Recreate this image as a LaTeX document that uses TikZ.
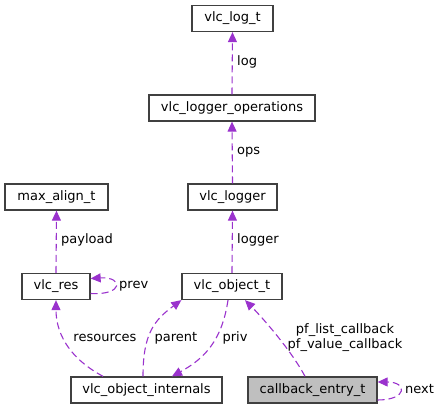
\documentclass[tikz,border=0pt]{standalone}
\usepackage{fontspec}
\setmainfont{DejaVu Sans}
\usetikzlibrary{arrows.meta}
\definecolor{depcol}{HTML}{9A32CD}
\definecolor{hilite}{HTML}{BFBFBF}
\begin{document}
\begin{tikzpicture}[x=1pt,y=1pt,
    box/.style={draw=black!75,line width=1.3pt,fill=white,minimum height=26pt,inner sep=0pt,font=\fontsize{13}{15}\selectfont},
    dep/.style={draw=depcol,line width=1.1pt,dash pattern=on 7pt off 4pt,-{Triangle[length=10pt,width=9pt,fill=depcol]}},
    lbl/.style={inner sep=0pt,font=\fontsize{13}{15}\selectfont}]
          \useasboundingbox (0,0) rectangle (440,409);
          \node[box,minimum width=81pt] (logt) at (232.5,390.5) {vlc\_log\_t};
          \node[box,minimum width=166pt] (ops) at (232,301) {vlc\_logger\_operations};
          \node[box,minimum width=103pt] (maxalign) at (56.5,212) {max\_align\_t};
          \node[box,minimum width=89pt] (logger) at (232.5,212) {vlc\_logger};
          \node[box,minimum width=68pt] (res) at (56,122.5) {vlc\_res};
          \node[box,minimum width=100pt] (object) at (232,122.5) {vlc\_object\_t};
          \node[box,minimum width=151pt] (internals) at (146.5,19) {vlc\_object\_internals};
          \node[box,minimum width=129pt,fill=hilite] (callback) at (312.5,19) {callback\_entry\_t};
          \draw[dep] (ops.north) -- (logt.south);
          \draw[dep] (logger.north) -- (ops.south);
          \draw[dep] (res.north) -- (maxalign.south);
          \draw[dep] (object.north) -- (logger.south);
          \draw[dep] ([yshift=-7pt]res.east) .. controls +(33,-2) and +(33,2) .. ([yshift=8pt]res.east);
          \draw[dep] ([xshift=-43.5pt]internals.north) .. controls +(-37,20) and +(0,-30) .. (res.south);
          \draw[dep] ([xshift=-3.5pt]internals.north) .. controls +(0,43) and +(-27,-20) .. (object.south west);
          \draw[dep] ([xshift=-4pt]object.south) .. controls +(-6,-40) and +(33,18) .. ([xshift=25.5pt]internals.north);
          \draw[dep] ([xshift=-7.5pt]callback.north) .. controls +(-15,28) and +(15,-15) .. ([xshift=13pt]object.south);
          \draw[dep] ([yshift=-10pt]callback.east) .. controls +(30,0) and +(30,0) .. ([yshift=8pt]callback.east);
          \node[lbl,anchor=west] (loglbl) at (237,347) {log};
          \node[lbl,anchor=west] (opslbl) at (237,257) {ops};
          \node[lbl,anchor=west] (payloadlbl) at (61,169) {payload};
          \node[lbl,anchor=west] (loggerlbl) at (237,169) {logger};
          \node[lbl,anchor=west] (prevlbl) at (119,123) {prev};
          \node[lbl] (reslbl) at (105,71) {resources};
          \node[lbl] (parentlbl) at (176,71) {parent};
          \node[lbl] (privlbl) at (235,71) {priv};
          \node[lbl,align=center] (cblbl) at (345,71.5) {pf\_list\_callback\\pf\_value\_callback};
          \node[lbl,anchor=west] (nextlbl) at (405,20) {next};
        \end{tikzpicture}
\end{document}
